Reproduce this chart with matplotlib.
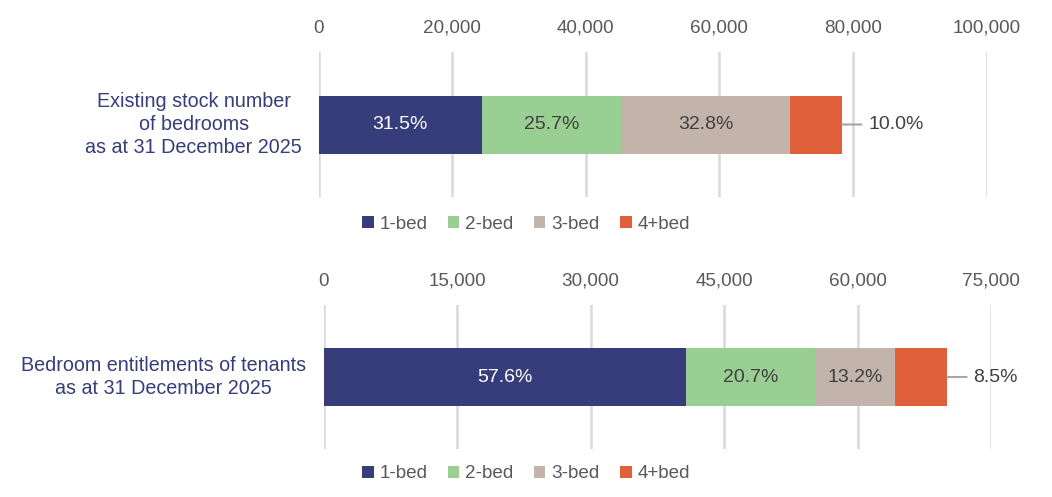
import matplotlib.pyplot as plt
from matplotlib.patches import Patch

plt.rcParams['font.family'] = ['Liberation Sans', 'DejaVu Sans']

categories = ['1-bed', '2-bed', '3-bed', '4+bed']
colors = ['#363d7a', '#99cf92', '#c2b4ab', '#e0603b']
label_colors = ['white', '#404040', '#404040', '#404040']

stock_title = 'Existing stock number\nof bedrooms\nas at 31 December 2025'
stock_values = [24450, 20900, 25200, 7800]
stock_pct = ['31.5%', '25.7%', '32.8%', '10.0%']
stock_ticks = [0, 20000, 40000, 60000, 80000, 100000]

tenant_title = 'Bedroom entitlements of tenants\nas at 31 December 2025'
tenant_values = [40700, 14450, 9050, 5850]
tenant_pct = ['57.6%', '20.7%', '13.2%', '8.5%']
tenant_ticks = [0, 15000, 30000, 45000, 60000, 75000]

W, H = 1052, 497
fig = plt.figure(figsize=(W / 100, H / 100), dpi=100)

grey = '#595959'
fs = 13.6


def panel(left, right, top, bottom, title, title_x, values, pct, ticks, legend_y):
    ax = fig.add_axes([left / W, 1 - bottom / H, (right - left) / W, (bottom - top) / H])
    start = 0
    for i, v in enumerate(values):
        ax.barh(0, v, left=start, height=0.4, color=colors[i], zorder=3)
        if i < len(values) - 1:
            ax.text(start + v / 2, 0, pct[i], ha='center', va='center',
                    color=label_colors[i], fontsize=14, zorder=4)
        else:
            ax.annotate(pct[i], xy=(start + v, 0), xytext=(19, 0),
                        textcoords='offset points', ha='left', va='center',
                        color='#404040', fontsize=14,
                        arrowprops=dict(arrowstyle='-', color='#a6a6a6', lw=1.5,
                                        shrinkA=3, shrinkB=0))
        start += v
    ax.set_xlim(ticks[0], ticks[-1])
    ax.set_ylim(-0.5, 0.5)
    ax.set_xticks(ticks)
    ax.set_xticklabels([f'{t:,}' for t in ticks])
    ax.xaxis.tick_top()
    ax.tick_params(axis='x', length=0, pad=11, labelsize=fs, labelcolor=grey)
    ax.set_yticks([])
    ax.grid(axis='x', color='#d9d9d9', lw=1.8, zorder=0)
    for s in ax.spines.values():
        s.set_visible(False)
    fig.text(title_x / W, 1 - ((top + bottom) / 2) / H, title, ha='right', va='center',
             multialignment='center', color='#363d7a', fontsize=14.2, linespacing=1.25)
    handles = [Patch(facecolor=c, edgecolor='none') for c in colors]
    fig.legend(handles, categories, loc='center', bbox_to_anchor=(0.5, 1 - legend_y / H),
               ncol=4, frameon=False, fontsize=fs, labelcolor=grey,
               handlelength=0.6, handleheight=0.6, handletextpad=0.3,
               columnspacing=1.1)
    return ax


panel(318.5, 986.7, 52, 197, stock_title, 302, stock_values, stock_pct, stock_ticks, 224)
panel(323.5, 991.3, 305, 449, tenant_title, 306, tenant_values, tenant_pct, tenant_ticks, 474)

fig.savefig('out.png', dpi=100)
